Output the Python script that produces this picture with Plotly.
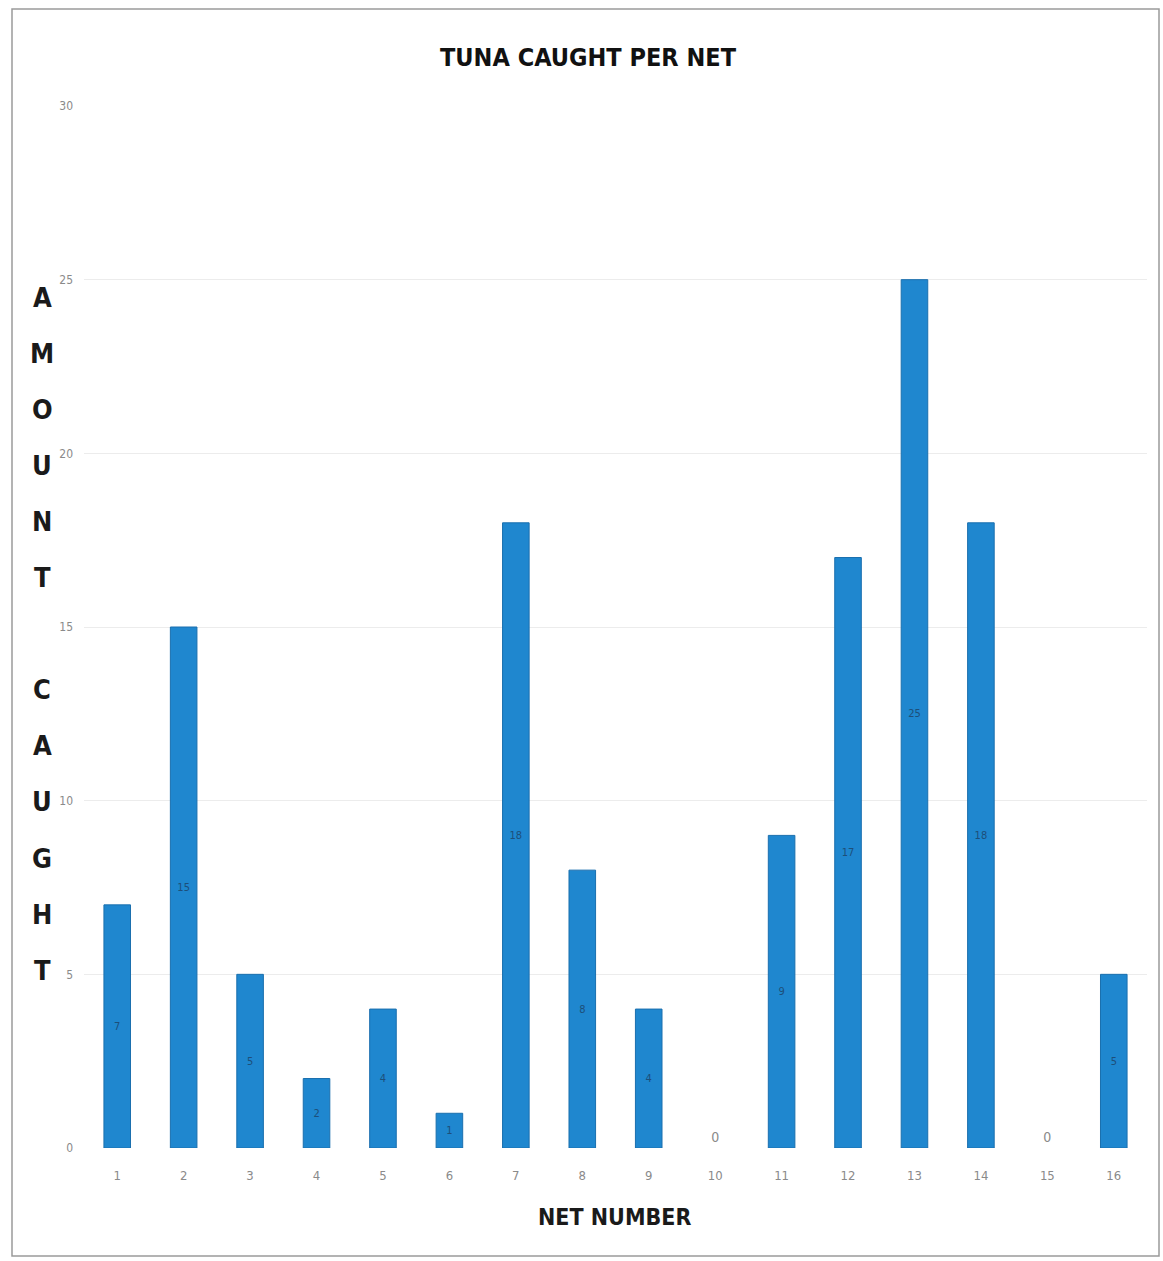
import plotly.graph_objects as go

# Tuna catch per net
nets = [str(i) for i in range(1, 17)]
tuna_caught = [7, 15, 5, 2, 4, 1, 18, 8, 4, 0, 9, 17, 25, 18, 0, 5]
y_ticks = [0, 5, 10, 15, 20, 25, 30]
y_title_letters = ["A", "M", "O", "U", "N", "T", "", "C", "A", "U", "G", "H", "T"]

W, H = 1163, 1261
L, R, T, B = 84, 16, 106, 113
plot_h = H - T - B
plot_w = W - L - R

FONT = "DejaVu Sans Condensed, sans-serif"

text_pos = ["outside" if v == 0 else "inside" for v in tuna_caught]
edge_w = [0 if v == 0 else 1 for v in tuna_caught]

fig = go.Figure(
    go.Bar(
        x=nets,
        y=tuna_caught,
        marker=dict(color="#1f87cf", line=dict(color="#1a6fae", width=edge_w)),
        text=[str(v) for v in tuna_caught],
        textposition=text_pos,
        insidetextanchor="middle",
        insidetextfont=dict(color="#1d4f7a", size=11, family=FONT),
        outsidetextfont=dict(color="#8a8a8a", size=14, family=FONT),
        cliponaxis=False,
    )
)

# stacked vertical axis title, one letter per line
annotations = []
for i, letter in enumerate(y_title_letters):
    if not letter:
        continue
    py = 297 + 56.1 * i
    annotations.append(
        dict(
            text=f"<b>{letter}</b>",
            x=(42 - L) / plot_w,
            y=(H - B - py) / plot_h,
            xref="paper",
            yref="paper",
            showarrow=False,
            font=dict(family=FONT, size=27, color="#1a1a1a"),
            xanchor="center",
            yanchor="middle",
        )
    )

annotations.append(
    dict(
        text="<b>NET NUMBER</b>",
        x=(614 - L) / plot_w,
        y=(H - B - 1217) / plot_h,
        xref="paper",
        yref="paper",
        showarrow=False,
        font=dict(family=FONT, size=23, color="#1a1a1a"),
        xanchor="center",
        yanchor="middle",
    )
)

fig.update_layout(
    width=W,
    height=H,
    margin=dict(l=L, r=R, t=T, b=B),
    paper_bgcolor="white",
    plot_bgcolor="white",
    showlegend=False,
    bargap=0.6,
    title=dict(
        text="<b>TUNA CAUGHT PER NET</b>",
        x=588 / W,
        xanchor="center",
        y=1 - 57 / H,
        yanchor="middle",
        font=dict(family=FONT, size=25, color="#111111"),
    ),
    annotations=annotations,
    shapes=[
        dict(
            type="rect",
            xref="paper",
            yref="paper",
            x0=(12 - L) / plot_w,
            x1=(1159 - L) / plot_w,
            y0=(H - B - 1256) / plot_h,
            y1=(H - B - 9) / plot_h,
            line=dict(color="#9a9a9a", width=1.5),
            layer="below",
        )
    ],
)

fig.update_xaxes(
    showgrid=False,
    showline=False,
    ticks="",
    ticklabelstandoff=18,
    tickfont=dict(family=FONT, size=13, color="#8a8a8a"),
)
fig.update_yaxes(
    range=[0, 30],
    tickvals=y_ticks,
    showgrid=True,
    gridcolor="#ececec",
    gridwidth=1,
    zeroline=False,
    showline=False,
    ticks="",
    ticklabelstandoff=10,
    tickfont=dict(family=FONT, size=12, color="#8a8a8a"),
)

fig.write_html("out.html")
